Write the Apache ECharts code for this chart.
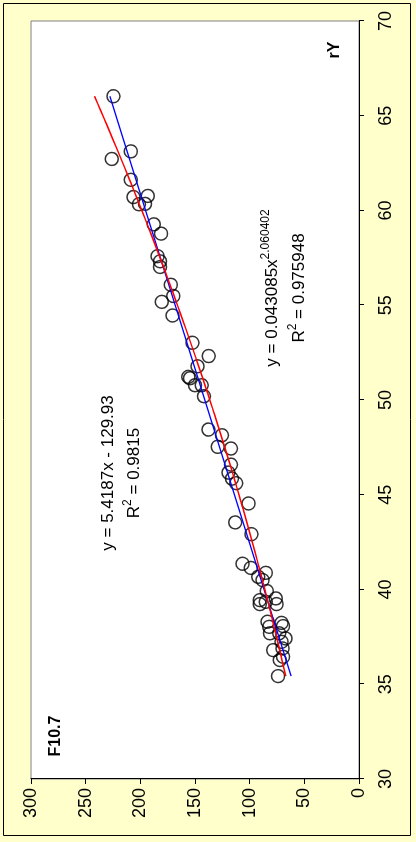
<!DOCTYPE html>
<html>
<head>
<meta charset="utf-8">
<script src="https://cdn.jsdelivr.net/npm/echarts@6/dist/echarts.min.js"></script>
<style>
  html, body { margin: 0; padding: 0; width: 416px; height: 842px; overflow: hidden; background: #FFFFCC; }
  /* The chart is laid out landscape and turned a quarter turn to stand upright on the page */
  #chart { position: absolute; left: 0; top: 0; width: 842px; height: 416px;
           transform-origin: 0 0; transform: translate(0, 842px) rotate(-90deg); }
</style>
</head>
<body>
<div id="chart"></div>
<script>
// Axis ticks
const rYTicks = [30, 35, 40, 45, 50, 55, 60, 65, 70];
const f107Ticks = [0, 50, 100, 150, 200, 250, 300];

// Observations: sunspot index rY against F10.7 solar flux
const rYValues = [
  66.03, 63.12, 62.72, 61.62, 60.71, 60.77, 60.33, 60.35, 59.27, 58.78,
  57.59, 57.32, 57.02, 56.08, 55.49, 55.18, 54.46, 53.02, 52.32, 51.78,
  51.22, 51.15, 50.78, 50.78, 50.20, 48.44, 48.14, 47.53, 47.44, 46.59,
  46.17, 45.85, 45.61, 44.54, 43.54, 42.92, 41.36, 41.14, 40.67, 40.88,
  40.50, 39.92, 39.53, 39.44, 39.35, 39.23, 39.23, 38.30, 38.03, 38.24,
  38.07, 37.69, 37.69, 37.42, 37.24, 36.80, 36.89, 36.45, 36.28, 35.43
];
const f107Values = [
  224.6, 208.7, 226.1, 208.7, 206.3, 193.2, 201.3, 195.7, 187.7, 181.0,
  184.2, 182.0, 182.0, 172.1, 169.8, 180.4, 170.5, 152.3, 137.5, 147.7,
  156.1, 154.6, 150.0, 143.9, 141.8, 137.7, 125.4, 129.3, 117.1, 117.1,
  119.4, 116.2, 112.3, 101.0, 113.2, 98.4, 106.5, 98.9, 92.2, 85.2,
  88.2, 84.3, 76.1, 90.7, 85.2, 90.7, 75.4, 83.6, 82.2, 70.8,
  69.4, 81.5, 73.0, 67.2, 70.8, 78.5, 69.9, 69.4, 72.4, 74.0
];

// Fitted trendlines, as printed on the chart
const linSlope = 5.4187, linIntercept = -129.93, linR2 = '0.9815';
const powCoef = 0.043085, powExp = 2.060402, powR2 = '0.975948';

const points = rYValues.map((x, i) => [x, f107Values[i]]);
const xLo = Math.min(...rYValues), xHi = Math.max(...rYValues);

const linearLine = [xLo, xHi].map(x => [x, linSlope * x + linIntercept]);
const powerLine = [];
const steps = 80;
for (let i = 0; i <= steps; i++) {
  const x = xLo + (xHi - xLo) * i / steps;
  powerLine.push([x, powCoef * Math.pow(x, powExp)]);
}

const FONT = '"Liberation Sans", Arial, sans-serif';

function txt(x, y, text, opts) {
  return Object.assign({
    type: 'text', x: x, y: y, z: 100, silent: true,
    style: Object.assign({
      text: text, fill: '#000', fontSize: 17, fontFamily: FONT,
      align: 'center', verticalAlign: 'middle',
      textAlign: 'center', textVerticalAlign: 'middle'
    }, opts || {})
  });
}

const supRich = {
  a: { fontSize: 17, fontFamily: FONT, color: '#000', lineHeight: 24 },
  s: { fontSize: 12, fontFamily: FONT, color: '#000', lineHeight: 12, verticalAlign: 'top' }
};

const chart = echarts.init(document.getElementById('chart'), null, { renderer: 'canvas', width: 842, height: 416 });

chart.setOption({
  animation: false,
  backgroundColor: '#FFFFCC',
  grid: { left: 63, right: 21, top: 31, bottom: 57, show: true, backgroundColor: '#FFFFFF', borderColor: '#808080', borderWidth: 1 },
  xAxis: {
    type: 'value', min: rYTicks[0], max: rYTicks[rYTicks.length - 1], interval: rYTicks[1] - rYTicks[0],
    position: 'bottom',
    axisLine: { show: true, onZero: false, lineStyle: { color: '#000', width: 1 } },
    axisTick: { show: true, inside: false, length: 5, lineStyle: { color: '#000', width: 1 } },
    axisLabel: { show: true, fontSize: 18, fontFamily: FONT, color: '#000', margin: 18, showMinLabel: true, showMaxLabel: true },
    splitLine: { show: false }
  },
  yAxis: {
    type: 'value', min: f107Ticks[0], max: f107Ticks[f107Ticks.length - 1], interval: f107Ticks[1] - f107Ticks[0],
    position: 'left',
    axisLine: { show: true, onZero: false, lineStyle: { color: '#000', width: 1 } },
    axisTick: { show: true, inside: false, length: 5, lineStyle: { color: '#000', width: 1 } },
    axisLabel: { show: true, fontSize: 18, fontFamily: FONT, color: '#000', margin: 9, showMinLabel: true, showMaxLabel: true },
    splitLine: { show: false }
  },
  series: [
    {
      type: 'scatter', data: points, symbol: 'circle', symbolSize: 13, z: 2,
      itemStyle: { color: 'rgba(0,0,0,0)', borderColor: '#000', borderWidth: 1.5 },
      emphasis: { disabled: true }, silent: true
    },
    {
      type: 'line', data: linearLine, showSymbol: false, symbol: 'none', z: 3,
      lineStyle: { color: '#0000FF', width: 1.5 }, emphasis: { disabled: true }, silent: true
    },
    {
      type: 'line', data: powerLine, showSymbol: false, symbol: 'none', z: 4,
      lineStyle: { color: '#FF0000', width: 1.5 }, emphasis: { disabled: true }, silent: true
    }
  ],
  graphic: [
    { type: 'rect', silent: true, z: 0,
      shape: { x: 6.5, y: 3.5, width: 832, height: 407 },
      style: { fill: null, stroke: '#000', lineWidth: 1 } },
    txt(369, 108.5, 'y = ' + linSlope + 'x - ' + Math.abs(linIntercept)),
    txt(369, 134, '{a|R}{s|2}{a| = ' + linR2 + '}', { rich: supRich }),
    txt(554, 272, '{a|y = ' + powCoef + 'x}{s|' + powExp + '}', { rich: supRich }),
    txt(554, 299, '{a|R}{s|2}{a| = ' + powR2 + '}', { rich: supRich }),
    txt(792, 335, 'rY', { fontWeight: 'bold', fontSize: 16 }),
    txt(106, 56, 'F10.7', { fontWeight: 'bold', fontSize: 16 })
  ]
});
</script>
</body>
</html>
